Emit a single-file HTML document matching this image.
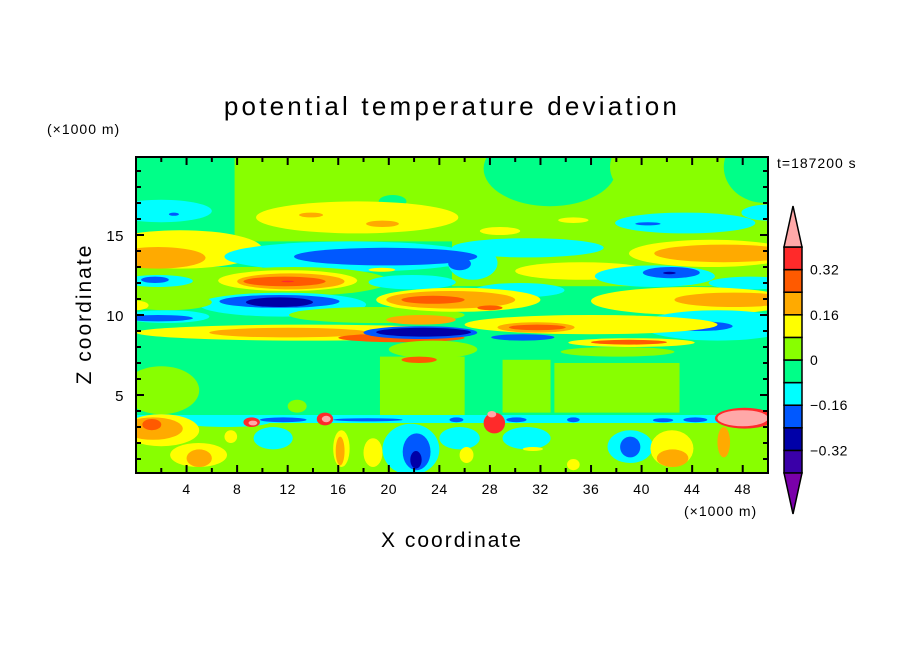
<!DOCTYPE html>
<html><head><meta charset="utf-8"><style>
html,body{margin:0;padding:0;background:#fff;}
svg{display:block;font-family:"Liberation Sans",sans-serif;}
</style></head><body>
<svg id="chart" width="904" height="654" viewBox="0 0 904 654">
<defs><clipPath id="pc"><rect x="136" y="157" width="632" height="316"/></clipPath></defs>
<g id="field" clip-path="url(#pc)"></g>
<g id="axes"></g>
<g id="cbar"></g>
<text x="452" y="115" text-anchor="middle" font-size="26" letter-spacing="3.2">potential temperature deviation</text>
<text x="47" y="134" font-size="14" letter-spacing="1">(×1000 m)</text>
<text x="684" y="516" font-size="14" letter-spacing="1">(×1000 m)</text>
<text x="452" y="547" text-anchor="middle" font-size="21" letter-spacing="2">X coordinate</text>
<text x="0" y="0" transform="translate(91,314) rotate(-90)" text-anchor="middle" font-size="21" letter-spacing="2">Z coordinate</text>
<text x="777" y="168" font-size="14" letter-spacing="1">t=187200 s</text>
</svg>
<script>
// contour levels and colors
const levels = [-0.4,-0.32,-0.24,-0.16,-0.08,0,0.08,0.16,0.24,0.32,0.4];
const levelColors = ["#7a00aa","#3a00a8","#0000a8","#0058ff","#00ffff","#00ff88","#88ff00","#ffff00","#ffaa00","#ff5a00","#ff2a2a","#ffa8a8"];
const cbarLabels = ["0.32","0.16","0","\u22120.16","\u22120.32"];
const cbarLabelValues = [0.32,0.16,0,-0.16,-0.32];
const xTicks = [4,8,12,16,20,24,28,32,36,40,44,48];
const yTicks = [5,10,15];
// field regions: [x1, x2, z1, z2, value, shape(0 rect / 1 ellipse)] in km
const fieldRegions = [
[-1,51,-1,21,-0.04,0],
[7.8,51,14.6,21,0.04,0],
[27.5,38,16.8,21.5,-0.04,1],
[37.5,45.5,17,21.5,0.04,1],
[46.5,53,17,21.5,-0.04,1],
[19.2,21.4,16.7,17.5,-0.04,1],
[-2,6,15.8,17.2,-0.12,1],
[2.6,3.4,16.2,16.4,-0.2,1],
[9.5,25.5,15.1,17.1,0.12,1],
[12.9,14.8,16.1,16.4,0.2,1],
[18.2,20.8,15.5,15.9,0.2,1],
[27.2,30.4,15,15.5,0.12,1],
[33.4,35.8,15.75,16.1,0.12,1],
[37.9,49,15.1,16.4,-0.12,1],
[47.9,52,15.9,16.9,-0.12,1],
[39.5,41.5,15.6,15.8,-0.2,1],
[-1,10,11,13,0.04,0],
[-3,10,12.9,15.3,0.12,1],
[-2,5.5,12.9,14.25,0.2,1],
[25,51,11.8,14.8,0.04,0],
[7,27,12.7,14.6,-0.12,1],
[25,37,13.6,14.8,-0.12,1],
[24.7,28.6,12.2,14.3,-0.12,1],
[12.5,27,13.1,14.2,-0.2,1],
[24.7,26.5,12.8,13.6,-0.2,1],
[30,40.5,12.2,13.3,0.12,1],
[39,52,13,14.7,0.12,1],
[41,52,13.3,14.4,0.2,1],
[36.3,45.8,11.75,13.1,-0.12,1],
[40.1,44.6,12.3,13,-0.2,1],
[41.7,42.7,12.55,12.7,-0.28,1],
[-1,4.5,11.75,12.5,-0.12,1],
[0.4,2.6,12,12.4,-0.2,1],
[5,20,11.2,13,0.04,1],
[6.5,17.5,11.5,12.8,0.12,1],
[8,16.5,11.6,12.6,0.2,1],
[8.5,15,11.8,12.4,0.28,1],
[11.5,12.5,12.05,12.15,0.36,1],
[18.4,25.3,11.6,12.5,-0.12,1],
[18.4,20.5,12.7,12.95,0.12,1],
[26.8,33.9,11.1,12,-0.12,1],
[45.3,52,11.6,12.4,-0.12,1],
[5,18.2,9.9,11.4,-0.12,1],
[6.6,16.1,10.45,11.25,-0.2,1],
[8.7,14,10.5,11.1,-0.28,1],
[-1,6,10.3,11.3,0.04,1],
[-1,1,10.3,10.9,0.12,1],
[-1,5.8,9.5,10.3,-0.12,1],
[-1,4.5,9.6,10,-0.2,1],
[12.1,26,9.5,10.5,0.04,1],
[19,32,10.2,11.7,0.12,1],
[19.8,30,10.4,11.5,0.2,1],
[21,26,10.7,11.2,0.28,1],
[27,29,10.3,10.6,0.28,1],
[36,52,10,11.75,0.12,1],
[42.6,52,10.5,11.4,0.2,1],
[19.8,25.3,9.4,10,0.2,1],
[40,52,8.4,10.3,-0.12,1],
[41.9,47.2,9,9.6,-0.2,1],
[26,46,8.8,10,0.12,1],
[28.6,34.7,8.9,9.55,0.2,1],
[29.5,34,9.05,9.4,0.28,1],
[0,27,8.4,9.4,0.12,1],
[5.8,18.4,8.6,9.2,0.2,1],
[16,26,8.3,8.85,0.28,1],
[18,27,8.5,9.3,-0.2,1],
[19,26.5,8.65,9.2,-0.28,1],
[28.1,33.1,8.4,8.8,-0.2,1],
[34.2,44.2,8,8.55,0.12,1],
[36,42,8.15,8.45,0.28,1],
[33.6,42.6,7.4,8,0.04,1],
[20,27,7.3,8.4,0.04,1],
[19.3,26,3.7,7.4,0.04,0],
[29,32.8,3.9,7.2,0.04,0],
[33.1,43,3.9,7,0.04,0],
[-1,5,3.8,6.8,0.04,1],
[12,13.5,3.9,4.7,0.04,1],
[21,23.8,7,7.4,0.28,1],
[-1,51,-1,3.3,0.04,0],
[-1,51,3.25,3.75,-0.12,0],
[3.7,10.6,3,3.6,-0.12,1],
[9.3,12.4,1.6,3,-0.12,1],
[9.8,13.5,3.3,3.6,-0.2,1],
[15.6,21.1,3.35,3.55,-0.2,1],
[24.8,25.9,3.3,3.6,-0.2,1],
[29.3,30.9,3.3,3.6,-0.2,1],
[34.1,35.1,3.3,3.6,-0.2,1],
[40.9,42.5,3.3,3.55,-0.2,1],
[43.3,45.2,3.3,3.6,-0.2,1],
[19.5,24,0,3.2,-0.12,1],
[21.1,23.3,0.3,2.6,-0.2,1],
[21.7,22.6,0.4,1.5,-0.28,1],
[24,27.2,1.6,3,-0.12,1],
[29,32.8,1.6,3,-0.12,1],
[37.3,40.9,0.75,2.8,-0.12,1],
[38.3,39.9,1.1,2.4,-0.2,1],
[-1,5,1.8,3.8,0.12,1],
[-1,3.7,2.2,3.6,0.2,1],
[0.5,2,2.8,3.5,0.28,1],
[8.5,9.8,3,3.6,0.36,1],
[8.9,9.6,3.1,3.4,0.45,1],
[14.3,15.6,3.1,3.9,0.36,1],
[14.7,15.4,3.3,3.7,0.45,1],
[27.5,29.2,2.6,3.9,0.36,1],
[27.8,28.5,3.6,4,0.45,1],
[45.8,50.5,2.9,4.2,0.36,1],
[46,50,3.05,4.05,0.45,1],
[46,47,1.1,3,0.2,1],
[2.7,7.2,0.5,2,0.12,1],
[4,6,0.5,1.6,0.2,1],
[15.6,16.9,0.5,2.8,0.12,1],
[15.8,16.5,0.6,2.4,0.2,1],
[18,19.5,0.5,2.3,0.12,1],
[7,8,2,2.8,0.12,1],
[25.6,26.7,0.75,1.75,0.12,1],
[34.1,35.1,0.3,1,0.12,1],
[30.6,32.2,1.5,1.75,0.12,1],
[40.7,44.1,0.5,2.8,0.12,1],
[41.2,43.7,0.5,1.6,0.2,1]
];

const NS = "http://www.w3.org/2000/svg";
const X0 = 136, X1 = 768, Y0 = 473, Y1 = 157;
function sx(x){ return X0 + (x/50)*(X1-X0); }
function sy(z){ return 475 - z*16; }
function colorFor(v){
  let i = 0;
  while (i < levels.length && v >= levels[i]) i++;
  return levelColors[i];
}
const field = document.getElementById('field');
fieldRegions.forEach(function(r){
  const c = colorFor(r[4]);
  let el;
  if (r[5] === 0) {
    el = document.createElementNS(NS,'rect');
    el.setAttribute('x', sx(r[0]));
    el.setAttribute('y', sy(r[3]));
    el.setAttribute('width', sx(r[1]) - sx(r[0]));
    el.setAttribute('height', sy(r[2]) - sy(r[3]));
  } else {
    el = document.createElementNS(NS,'ellipse');
    el.setAttribute('cx', (sx(r[0]) + sx(r[1]))/2);
    el.setAttribute('cy', (sy(r[2]) + sy(r[3]))/2);
    el.setAttribute('rx', (sx(r[1]) - sx(r[0]))/2);
    el.setAttribute('ry', (sy(r[2]) - sy(r[3]))/2);
  }
  el.setAttribute('fill', c);
  
  
  field.appendChild(el);
});

const axes = document.getElementById('axes');
function line(g,x1,y1,x2,y2,w,name){
  const l = document.createElementNS(NS,'line');
  l.setAttribute('x1',x1); l.setAttribute('y1',y1);
  l.setAttribute('x2',x2); l.setAttribute('y2',y2);
  l.setAttribute('stroke','#000'); l.setAttribute('stroke-width',w);
  
  
  g.appendChild(l);
}
function text(g,x,y,s,anchor,size,name){
  const t = document.createElementNS(NS,'text');
  t.setAttribute('x',x); t.setAttribute('y',y);
  t.setAttribute('text-anchor',anchor); t.setAttribute('font-size',size);
  t.setAttribute('letter-spacing','0.5');
  t.textContent = s;
  
  
  g.appendChild(t);
}
const frame = document.createElementNS(NS,'rect');
frame.setAttribute('x',136); frame.setAttribute('y',157);
frame.setAttribute('width',632); frame.setAttribute('height',316);
frame.setAttribute('fill','none'); frame.setAttribute('stroke','#000'); frame.setAttribute('stroke-width',2);


axes.appendChild(frame);
for (let x = 2; x < 50; x += 2) {
  const L = (x % 4 === 0) ? 8 : 5;
  line(axes, sx(x), Y0, sx(x), Y0-L, 2, 'x-tick');
  line(axes, sx(x), Y1, sx(x), Y1+L, 2, 'x-tick');
}
for (let z = 1; z < 20; z++) {
  const L = (z % 5 === 0) ? 8 : 5;
  line(axes, X0, sy(z), X0+L, sy(z), 2, 'y-tick');
  line(axes, X1, sy(z), X1-L, sy(z), 2, 'y-tick');
}
xTicks.forEach(function(v){ text(axes, sx(v), 494, String(v), 'middle', 14, 'x-tick-label'); });
yTicks.forEach(function(v){ text(axes, 124, sy(v)+6, String(v), 'end', 15, 'y-tick-label'); });

// colorbar
const cb = document.getElementById('cbar');
const CBX = 784, CBW = 18, CBT = 247, CBB = 473;
const boxH = (CBB - CBT) / 10;
for (let i = 1; i <= 10; i++) {
  const r = document.createElementNS(NS,'rect');
  r.setAttribute('x', CBX); r.setAttribute('y', CBB - i*boxH);
  r.setAttribute('width', CBW); r.setAttribute('height', boxH);
  r.setAttribute('fill', levelColors[i]); r.setAttribute('stroke','#000'); r.setAttribute('stroke-width',1.5);
  
  
  cb.appendChild(r);
}
const tri1 = document.createElementNS(NS,'polygon');
tri1.setAttribute('points', CBX+','+CBT+' '+(CBX+CBW)+','+CBT+' '+(CBX+CBW/2)+',206');
tri1.setAttribute('fill', levelColors[11]); tri1.setAttribute('stroke','#000'); tri1.setAttribute('stroke-width',1.5);


cb.appendChild(tri1);
const tri2 = document.createElementNS(NS,'polygon');
tri2.setAttribute('points', CBX+','+CBB+' '+(CBX+CBW)+','+CBB+' '+(CBX+CBW/2)+',514');
tri2.setAttribute('fill', levelColors[0]); tri2.setAttribute('stroke','#000'); tri2.setAttribute('stroke-width',1.5);


cb.appendChild(tri2);
cbarLabels.forEach(function(s, i){
  const v = cbarLabelValues[i];
  const y = CBB - ((v + 0.4) / 0.8) * (CBB - CBT);
  text(cb, 810, y+5, s, 'start', 14, 'colorbar-label');
});
</script>
</body></html>
